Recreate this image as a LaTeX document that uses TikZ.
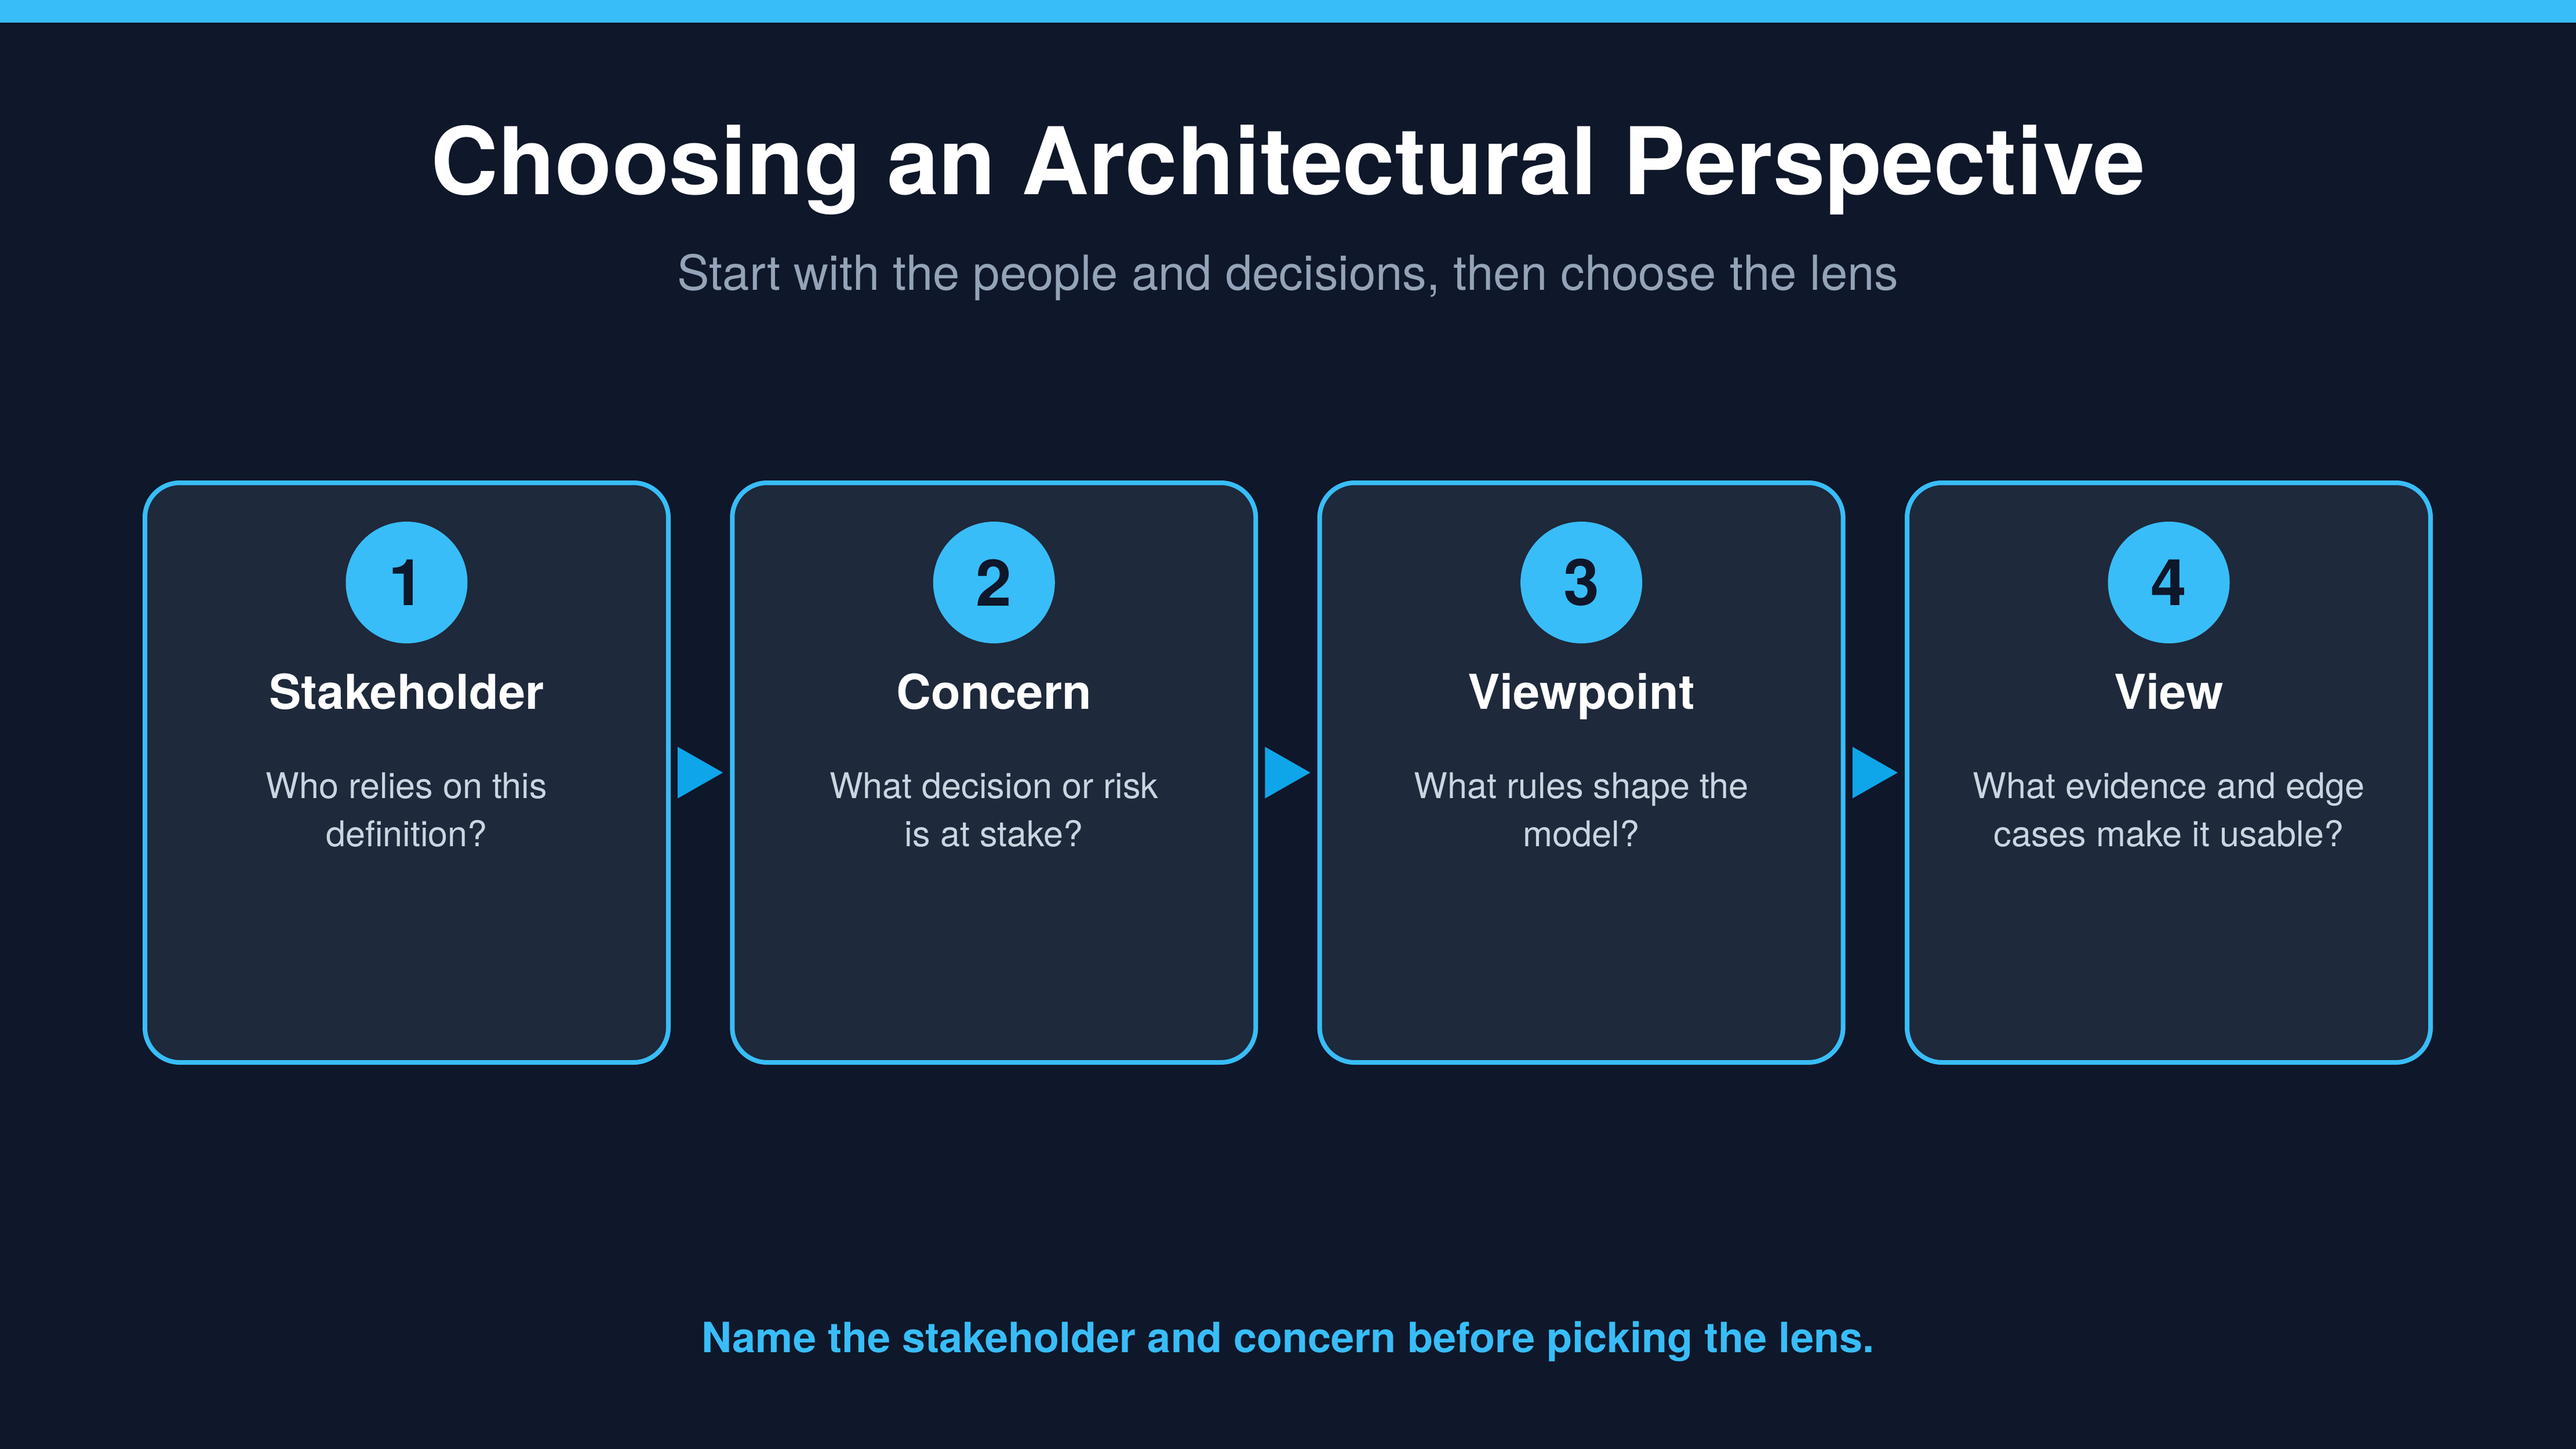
\documentclass[tikz,border=0pt]{standalone}
\usepackage{fontspec}
\setmainfont{TeX Gyre Heros}
\usetikzlibrary{calc}
\definecolor{bgdark}{HTML}{0F172A}
\definecolor{skyline}{HTML}{38BDF8}
\definecolor{cardfill}{HTML}{1E293B}
\definecolor{arrowblue}{HTML}{0EA5E9}
\definecolor{subgray}{HTML}{94A3B8}
\definecolor{descgray}{HTML}{CBD5E1}
\begin{document}
\begin{tikzpicture}[
		card/.style={draw=skyline,fill=cardfill,line width=0.08cm,rounded corners=0.6cm,minimum width=9.03cm,minimum height=10cm},
		badge/.style={circle,fill=skyline,minimum size=2.1cm,inner sep=0pt,text=bgdark,font=\fontsize{31.6pt}{36pt}\selectfont\bfseries},
		heading/.style={anchor=base,text=white,font=\fontsize{23.6pt}{28pt}\selectfont\bfseries},
		question/.style={anchor=base,text=descgray,align=center,font=\fontsize{17.4pt}{23.6pt}\selectfont},
		pointer/.style={fill=arrowblue}]
		
		\useasboundingbox[fill=bgdark] (0,0) rectangle (44.44,-25);
		\fill[skyline] (0,0) rectangle (44.44,-0.39);
		
		\node[anchor=base,text=white,font=\fontsize{45.8pt}{54pt}\selectfont\bfseries] (title) at (22.22,-3.36) {Choosing an Architectural Perspective};
		\node[anchor=base,text=subgray,font=\fontsize{23.7pt}{28pt}\selectfont] (subtitle) at (22.22,-5.01) {Start with the people and decisions, then choose the lens};
		
		\node[card] (stakeholder) at (7.015,-13.33) {};
		\node[card] (concern) at (17.148,-13.33) {};
		\node[card] (viewpoint) at (27.281,-13.33) {};
		\node[card] (view) at (37.415,-13.33) {};
		
		\node[badge] (n1) at (7.015,-10.05) {1};
		\node[badge] (n2) at (17.148,-10.05) {2};
		\node[badge] (n3) at (27.281,-10.05) {3};
		\node[badge] (n4) at (37.415,-10.05) {4};
		
		\node[heading] (h1) at (7.015,-12.23) {Stakeholder};
		\node[heading] (h2) at (17.148,-12.23) {Concern};
		\node[heading] (h3) at (27.281,-12.23) {Viewpoint};
		\node[heading] (h4) at (37.415,-12.23) {View};
		
		\node[question] (q1) at (7.015,-14.60) {Who relies on this\\definition?};
		\node[question] (q2) at (17.148,-14.60) {What decision or risk\\is at stake?};
		\node[question] (q3) at (27.281,-14.60) {What rules shape the\\model?};
		\node[question] (q4) at (37.415,-14.60) {What evidence and edge\\cases make it usable?};
		
		%arrows between the cards
		\coordinate (m1) at ($(stakeholder.east)!0.5!(concern.west)$);
		\coordinate (m2) at ($(concern.east)!0.5!(viewpoint.west)$);
		\coordinate (m3) at ($(viewpoint.east)!0.5!(view.west)$);
		\fill[pointer] ($(m1)+(-0.39,0.445)$) -- ($(m1)+(0.39,0)$) -- ($(m1)+(-0.39,-0.445)$) -- cycle;
		\fill[pointer] ($(m2)+(-0.39,0.445)$) -- ($(m2)+(0.39,0)$) -- ($(m2)+(-0.39,-0.445)$) -- cycle;
		\fill[pointer] ($(m3)+(-0.39,0.445)$) -- ($(m3)+(0.39,0)$) -- ($(m3)+(-0.39,-0.445)$) -- cycle;
		
		\node[anchor=base,text=skyline,font=\fontsize{20.5pt}{24pt}\selectfont\bfseries] (note) at (22.22,-23.33) {Name the stakeholder and concern before picking the lens.};
		\end{tikzpicture}
\end{document}
